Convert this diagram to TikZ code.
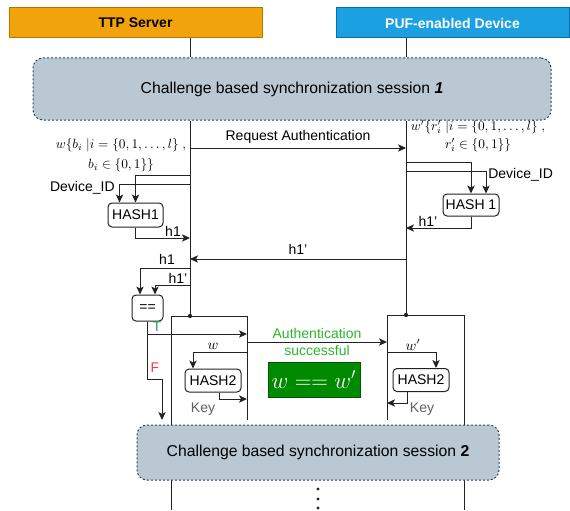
\documentclass[tikz,border=0pt]{standalone}
\usepackage[no-math]{fontspec}
\setmainfont{Liberation Sans}
\usetikzlibrary{arrows.meta,calc}
\definecolor{ttpfill}{HTML}{F0A30A}
\definecolor{ttpline}{HTML}{BD7000}
\definecolor{puffill}{HTML}{1BA1E2}
\definecolor{pufline}{HTML}{006EAF}
\definecolor{sessfill}{HTML}{BAC8D3}
\definecolor{sessline}{HTML}{23445D}
\definecolor{okfill}{HTML}{008A00}
\definecolor{okline}{HTML}{005700}
\definecolor{okgreen}{HTML}{2DB52D}
\definecolor{tgreen}{HTML}{1E9E5A}
\definecolor{fred}{HTML}{FF3B3B}
\definecolor{keygray}{HTML}{606060}
\definecolor{wire}{HTML}{222222}
\begin{document}
\begin{tikzpicture}[x=0.75pt, y=-0.75pt, line width=0.75pt, draw=wire,
  font=\fontsize{10.5}{12.6}\selectfont,
  arr/.style={-{Stealth[length=6pt,width=5.5pt,inset=1.5pt]}},
  actor/.style={draw, inner sep=0pt, minimum height=22.5pt, font=\fontsize{10.5}{12.6}\selectfont\bfseries},
  session/.style={draw=sessline, fill=sessfill, dash pattern=on 1.5pt off 1.5pt, rounded corners=7.5pt, inner sep=0pt, font=\fontsize{11.8}{14}\selectfont},
  hashbox/.style={draw, fill=white, rounded corners=3pt, inner sep=0pt, minimum width=42pt, minimum height=17.25pt},
  chal/.style={align=center, inner sep=0pt, font=\fontsize{9.7}{11.6}\selectfont},
  lbl/.style={inner sep=1pt}]
\useasboundingbox (0,0) rectangle (570,510);

% Partecipanti
\node[actor, fill=ttpfill, draw=ttpline, minimum width=189.75pt] (ttp) at (135.5,23) {TTP Server};
\node[actor, fill=puffill, draw=pufline, text=white, minimum width=174.75pt] (puf) at (452.5,23) {PUF-enabled Device};

% Punti sulle linee di vita
\coordinate (lifeA) at (190,316);
\coordinate (lifeB) at (406,315);
\coordinate (reqA) at (190,148);
\coordinate (reqB) at (406,148);
\coordinate (wA) at (190,175);
\coordinate (idA) at (190,184);
\coordinate (h1A) at (190,238);
\coordinate (wB) at (406,162);
\coordinate (idB) at (406,171);
\coordinate (h1B) at (406,228);
\coordinate (msgB) at (406,259);
\coordinate (msgA) at (190,259);
\coordinate (cmpA) at (190,268);
\coordinate (cmpB) at (190,285);
\coordinate (okA) at (247,334);
\coordinate (authA) at (247,342);
\coordinate (authB) at (387,342);
\coordinate (wbA) at (247,352);
\coordinate (keyA) at (247,399);
\coordinate (wbB) at (387,352);
\coordinate (keyB) at (387,403);
\coordinate (fEnd) at (162,420);

% Box di attivazione
\draw (171,510) |- (247,316) -- (247,420);
\draw (387,420) |- (464,315) -- (464,510);

% Sessioni
\node[session, minimum width=388.5pt, minimum height=46.5pt] (sess1) at (292,89) {Challenge based synchronization session \textbf{\textit{1}}};
\node[session, minimum width=271.5pt, minimum height=41.25pt] (sess2) at (318,452.5) {Challenge based synchronization session \textbf{2}};

% Linee di vita
\draw (ttp.south -| lifeA) -- (sess1.north -| lifeA);
\draw (sess1.south -| lifeA) -- (lifeA);
\draw (puf.south -| lifeB) -- (sess1.north -| lifeB);
\draw (sess1.south -| lifeB) -- (lifeB);
\fill[wire] (lifeA) circle (1.6pt);
\fill[wire] (lifeB) circle (1.6pt);

% Sfide
\node[chal] (chalA) at (121,155) {$w\{b_i\ |i=\{0,1,\ldots,l\}\ ,$\\[3pt]$b_i\in\{0,1\}\}$};
\node[chal] (chalB) at (478,136) {$w'\{r'_i\ |i=\{0,1,\ldots,l\}\ ,$\\[2pt]$r'_i\in\{0,1\}\}$};

% Richiesta
\draw[arr] (reqA) -- node[above] {Request Authentication} (reqB);

% HASH1 lato server
\node[hashbox, minimum width=41.25pt, minimum height=18pt] (hashA) at (135.5,215) {HASH1};
\draw[arr] (wA) -| (hashA.north);
\draw[arr] (idA) -| ($(hashA.north)+(-16,0)$);
\node[lbl, anchor=east] (devA) at (116.5,188) {Device\_ID};
\draw[arr] (hashA.south) |- (h1A);
\node[lbl] (h1lblA) at (173,231) {h1};

% HASH 1 lato dispositivo
\node[hashbox, minimum height=16.5pt] (hashB) at (471,205) {HASH 1};
\draw[arr] (wB) -| (hashB.north);
\draw[arr] (idB) -| ($(hashB.north)+(15,0)$);
\node[lbl, anchor=west] (devB) at (486.5,175) {Device\_ID};
\draw[arr] (hashB.south) |- (h1B);
\node[lbl] (h1lblB) at (428,221) {h1'};

% Risposta
\draw[arr] (msgB) -- node[above] {h1'} (msgA);

% Confronto
\node[hashbox, minimum width=23.25pt, minimum height=19.5pt] (eq) at (147.5,308) {==};
\draw[arr] (cmpA) -| ($(eq.north)+(-7.5,0)$);
\node[lbl] (h1lblC) at (167,259) {h1};
\draw[arr] (cmpB) -| ($(eq.north)+(7.5,0)$);
\node[lbl] (h1lblD) at (178,278) {h1'};
\draw[arr] (eq.south) |- (okA);
\node[lbl, text=tgreen] (tlbl) at (157,327) {T};
\draw[arr] (eq.south) -- ++(0,58) -| (fEnd);
\node[lbl, text=fred] (flbl) at (155,368) {F};

% Autenticazione riuscita
\draw[arr] (authA) -- (authB);
\node[lbl, align=center, text=okgreen] (authlbl) at (317,342) {Authentication\\successful};
\node[draw=okline, fill=okfill, text=white, minimum width=69pt, minimum height=26.25pt, inner sep=0pt, font=\fontsize{17}{20}\selectfont] (okbox) at (314,379.5) {$w == w'$};

% HASH2
\node[hashbox] (hashC) at (213,380.5) {HASH2};
\draw[arr] (wbA) -| ($(hashC.north)+(-20,0)$);
\node[lbl] (wlbl) at (213,346) {$w$};
\draw[arr] ($(hashC.south)+(6,0)$) |- (keyA);
\node[lbl, text=keygray] (keylblA) at (203,409) {Key};
\node[hashbox] (hashD) at (421,380) {HASH2};
\draw[arr] (wbB) -| ($(hashD.north)+(15,0)$);
\node[lbl] (wplbl) at (413,345) {$w'$};
\draw[arr] ($(hashD.south)+(-14,0)$) |- (keyB);
\node[lbl, text=keygray] (keylblB) at (422,409) {Key};

% Continua
\foreach \y in {489,499,508}
  \fill[wire] (318,\y) circle (1.2pt);

\end{tikzpicture}
\end{document}
